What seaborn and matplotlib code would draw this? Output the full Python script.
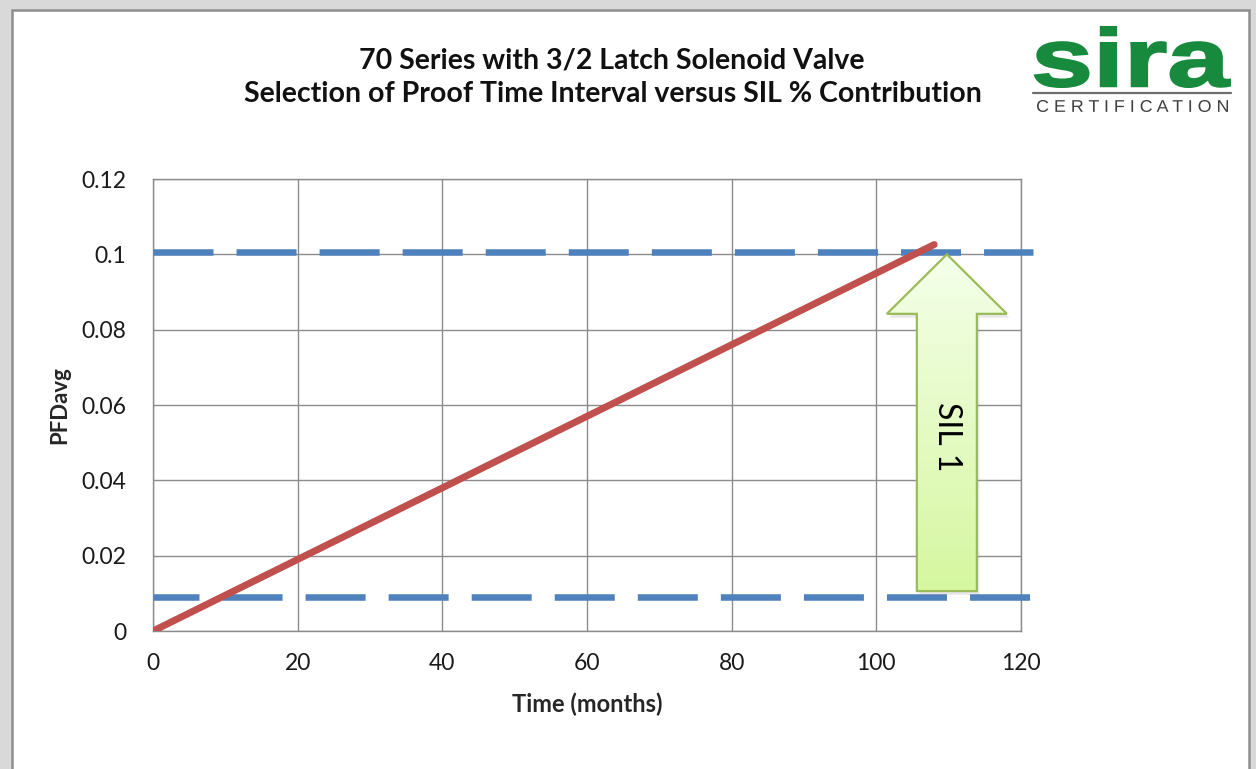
import numpy as np
import matplotlib
matplotlib.use("Agg")
import matplotlib.pyplot as plt
import matplotlib.patches as mpatches
from matplotlib.colors import LinearSegmentedColormap
from matplotlib.textpath import TextPath
from matplotlib.font_manager import FontProperties
from matplotlib.transforms import Affine2D
import seaborn as sns

# --- data ---
months = [0, 12, 24, 36, 48, 60, 72, 84, 96, 108]
pfd_avg = [0.0, 0.0114, 0.0228, 0.0342, 0.0456, 0.0570, 0.0684, 0.0798, 0.0912, 0.1026]
sil_upper = 0.1007   # upper dashed limit
sil_lower = 0.0090   # lower dashed limit
limit_end = [121.7, 122.4]
x_ticks = [0, 20, 40, 60, 80, 100, 120]
y_ticks = [0, 0.02, 0.04, 0.06, 0.08, 0.1, 0.12]
y_tick_labels = ["0", "0.02", "0.04", "0.06", "0.08", "0.1", "0.12"]
title_lines = ["70 Series with 3/2 Latch Solenoid Valve",
               "Selection of Proof Time Interval versus SIL % Contribution"]
arrow_label = "SIL 1"

RED = "#C0504D"
BLUE = "#4F81BD"
GRID = "#8C8C8C"
W, H = 1256, 769

sns.set_style("white")
plt.rcParams["font.family"] = ["Lato", "DejaVu Sans"]
plt.rcParams["lines.scale_dashes"] = False

fig = plt.figure(figsize=(W / 100, H / 100), dpi=100)
fig.patch.set_facecolor("#D9D9D9")

# white page panel
panel = mpatches.Rectangle((12 / W, -0.05), (1249 - 12) / W, 1.05 - 10 / H,
                           transform=fig.transFigure, facecolor="white",
                           edgecolor="#8F8F8F", lw=1.8, zorder=-10)
fig.patches.append(panel)

ax = fig.add_axes([153 / W, 1 - 631 / H, (1021 - 153) / W, (631 - 179) / H])
ax.set_facecolor("none")

# grid
ax.set_xlim(0, 120)
ax.set_ylim(0, 0.12)
ax.set_xticks(x_ticks)
ax.set_yticks(y_ticks)
ax.set_yticklabels(y_tick_labels)
ax.grid(True, color=GRID, lw=1.0, zorder=0)
ax.set_axisbelow(True)
for s in ax.spines.values():
    s.set_color(GRID)
    s.set_linewidth(1.0)
ax.tick_params(axis="both", direction="out", length=7, width=1.0, color=GRID,
               labelsize=16.5, labelcolor="#1a1a1a")
ax.tick_params(axis="y", pad=12)
ax.tick_params(axis="x", pad=9)

# dashed SIL limits
ax.hlines(sil_upper, 0, limit_end[0], colors=BLUE, lw=4.7,
          linestyles=[(0, (43.2, 16.6))], clip_on=False, zorder=3)
ax.hlines(sil_lower, 0, limit_end[1], colors=BLUE, lw=4.7,
          linestyles=[(10.1, (43.2, 16.6))], clip_on=False, zorder=3)

# PFDavg line
sns.lineplot(x=months, y=pfd_avg, color=RED, lw=5, ax=ax, zorder=4,
             solid_capstyle="round")

# SIL 1 arrow
ax_x, ax_base, ax_tip = 109.75, 0.0106, 0.1
shaft_w, head_w, head_len = 8.3, 16.6, 0.0158
shadow = mpatches.FancyArrow(ax_x + 0.35, ax_base - 0.0010, 0, ax_tip - ax_base,
                             width=shaft_w, head_width=head_w, head_length=head_len,
                             length_includes_head=True, color="#7f7f7f", alpha=0.18,
                             lw=0, zorder=5)
ax.add_patch(shadow)
arrow = mpatches.FancyArrow(ax_x, ax_base, 0, ax_tip - ax_base, width=shaft_w,
                            head_width=head_w, head_length=head_len,
                            length_includes_head=True, facecolor="none",
                            edgecolor="#9BBB59", lw=1.6, zorder=7)
ax.add_patch(arrow)
grad = np.linspace(0, 1, 256).reshape(-1, 1)
cmap = LinearSegmentedColormap.from_list("g", ["#D6F7A0", "#F4FFEA"])
im = ax.imshow(grad, cmap=cmap, origin="lower", aspect="auto", zorder=6,
               extent=[ax_x - head_w / 2, ax_x + head_w / 2, ax_base, ax_tip])
im.set_clip_path(arrow)
ax.set_xlim(0, 120)
ax.set_ylim(0, 0.12)
ax.text(ax_x, 0.0515, arrow_label, rotation=-90, ha="center", va="center",
        fontsize=23, color="black", zorder=8)

# labels
ax.set_xlabel("Time (months)", fontsize=17, fontweight="bold", labelpad=13)
ax.set_ylabel("PFDavg", fontsize=16, fontweight="bold", labelpad=8)

# title
fig.text(612 / W, 1 - 60 / H, title_lines[0], ha="center", va="center",
         fontsize=20.5, fontweight="bold", color="#111111")
fig.text(613 / W, 1 - 94 / H, title_lines[1], ha="center", va="center",
         fontsize=20.5, fontweight="bold", color="#111111")


# logo
def place_path(text, box, color, weight="bold", stroke=0.0):
    tp = TextPath((0, 0), text, size=10,
                  prop=FontProperties(family="Liberation Sans", weight=weight))
    ext = tp.get_extents()
    x0, y0, x1, y1 = box
    tr = (Affine2D().translate(-ext.x0, -ext.y0)
          .scale((x1 - x0) / ext.width, (y1 - y0) / ext.height)
          .translate(x0, H - y1).scale(1 / W, 1 / H))
    p = mpatches.PathPatch(tr.transform_path(tp), facecolor=color,
                           edgecolor=color if stroke else "none", lw=stroke,
                           transform=fig.transFigure)
    fig.patches.append(p)


place_path("sira", (1035, 27, 1230, 87), "#178A3E", stroke=1.5)
fig.lines.append(plt.Line2D([1033 / W, 1231 / W], [1 - 93 / H, 1 - 93 / H],
                            color="#6E6E6E", lw=1.6, transform=fig.transFigure))
place_path("C E R T I F I C A T I O N", (1037, 100, 1228, 112), "#3F3F3F",
           weight="normal")

fig.savefig("out.png", dpi=100, facecolor=fig.get_facecolor())
